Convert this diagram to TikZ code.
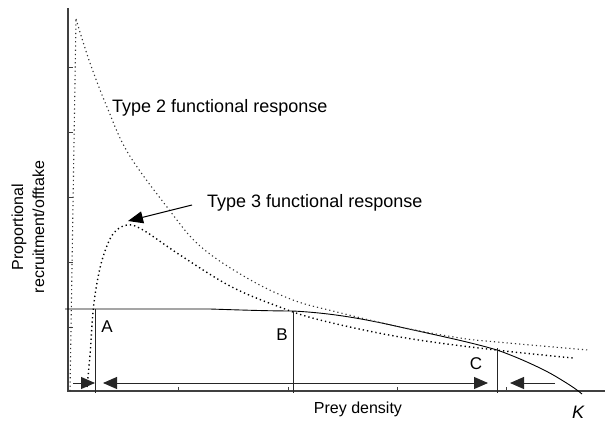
\documentclass[tikz,border=0pt]{standalone}
\usepackage{fontspec}
\setmainfont{Liberation Sans}
\usetikzlibrary{arrows.meta}
\begin{document}
\begin{tikzpicture}[x=1pt,y=-1pt,
  axisline/.style={line width=1.2pt, black!75},
  tickmark/.style={line width=0.8pt, black!75},
  recruit/.style={line width=0.9pt, black},
  dropline/.style={line width=1pt, black!85},
  typetwo/.style={line width=1.1pt, black!80, dash pattern=on 1.2pt off 3pt},
  typethree/.style={line width=1.4pt, black, dash pattern=on 1.3pt off 3pt},
  bigarrow/.style={line width=1pt, black!85, -{Triangle[length=14pt,width=12pt]}},
  bigdouble/.style={line width=1pt, black!85, {Triangle[length=14pt,width=12pt]}-{Triangle[length=14pt,width=12pt]}},
  lbl/.style={inner sep=0pt, font=\fontsize{18}{21}\selectfont},
  axlbl/.style={inner sep=0pt, font=\fontsize{16}{21}\selectfont}]
\useasboundingbox (0,0) rectangle (605,423);

% axes
\coordinate (origin) at (68,391);
\coordinate (ytop) at (68,8);
\coordinate (xend) at (605,391);
\draw[axisline] (ytop) -- (origin) -- (xend);
\foreach \yy in {67,132,197,262,327} \draw[tickmark] (68,\yy) -- (73,\yy);
\foreach \xx in {178,288,397,506} \draw[tickmark] (\xx,391) -- (\xx,387);

% recruitment curve
\draw[recruit] (65,309) -- (210,309) .. controls (240,310) and (270,311) .. (293,311)
  .. controls (330,313) and (360,318) .. (400,327)
  .. controls (440,336) and (470,342) .. (497,350)
  .. controls (520,358) and (545,370) .. (555,376)
  .. controls (565,382) and (575,388) .. (582,394);

% type 2 functional response
\draw[typetwo] (70,391) -- (76,19);
\draw[typetwo] plot[smooth, tension=0.6] coordinates {(76,19) (90,63) (107,107) (128,153) (167,207) (200,246) (247,278) (293,300) (337,312) (400,327) (460,338) (497,342) (588,350)};

% type 3 functional response
\draw[typethree] plot[smooth, tension=0.6] coordinates {(87,387) (90,355) (93,312) (97,283) (103,257) (113,234) (127,225) (143,230) (180,255) (230,286) (277,306) (320,320) (400,337) (487,349) (573,358)};

% equilibrium drop lines
\coordinate (Atop) at (95,309);
\coordinate (Abot) at (95,393);
\coordinate (Btop) at (293,311);
\coordinate (Bbot) at (293,393);
\coordinate (Ctop) at (497,348);
\coordinate (Cbot) at (497,393);
\draw[dropline] (Atop) -- (Abot);
\draw[dropline] (Btop) -- (Bbot);
\draw[dropline] (Ctop) -- (Cbot);

% direction arrows
\coordinate (a1s) at (73,383);
\coordinate (a1e) at (95,383);
\coordinate (a2s) at (103,383);
\coordinate (a2e) at (488,383);
\coordinate (a3s) at (555,383);
\coordinate (a3e) at (510,383);
\draw[bigarrow] (a1s) -- (a1e);
\draw[bigdouble] (a2s) -- (a2e);
\draw[bigarrow] (a3s) -- (a3e);

% labels
\node[lbl, anchor=base west] (t2) at (112,112) {Type 2 functional response};
\node[lbl, anchor=base west] (t3) at (207,207) {Type 3 functional response};
\coordinate (t3tip) at (128,221);
\coordinate (t3start) at (192,205);
\draw[line width=1pt, black, -{Triangle[length=15pt,width=12pt]}] (t3start) -- (t3tip);

\node[lbl, font=\fontsize{17}{20}\selectfont, anchor=base] (A) at (107,332) {A};
\node[lbl, font=\fontsize{17}{20}\selectfont, anchor=base] (B) at (282,340) {B};
\node[lbl, font=\fontsize{17}{20}\selectfont, anchor=base] (C) at (476,369) {C};

\node[axlbl, anchor=base] (xl) at (358,413) {Prey density};
\node[lbl, anchor=base] (K) at (578,418) {\itshape K};
\node[axlbl, rotate=90, align=center] (yl) at (28,227) {Proportional\\recruitment/offtake};
\end{tikzpicture}
\end{document}
